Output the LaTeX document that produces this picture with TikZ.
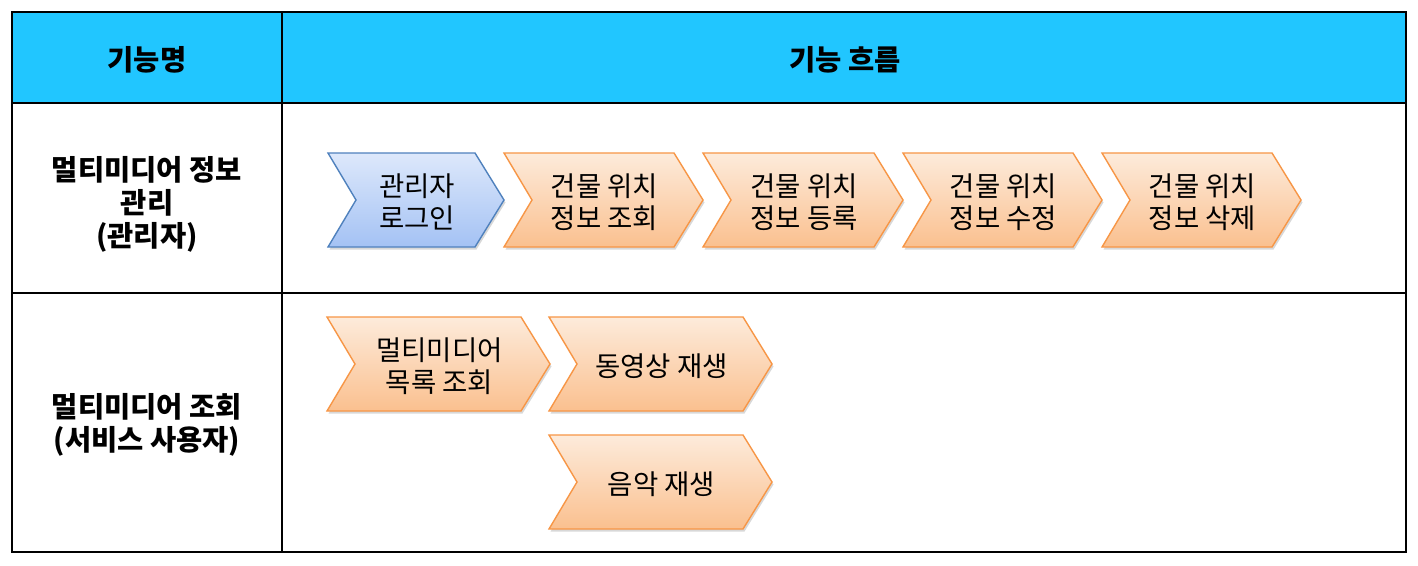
\documentclass[tikz,border=0pt]{standalone}
\usepackage{fontspec}
\setmainfont{Noto Sans CJK KR}
\usetikzlibrary{shadows}
\definecolor{hdr}{HTML}{21C6FF}
\definecolor{bluetop}{HTML}{DDE8FB}
\definecolor{bluebot}{HTML}{A4C2F4}
\definecolor{blueline}{HTML}{4F81BD}
\definecolor{ortop}{HTML}{FDEBDB}
\definecolor{orbot}{HTML}{FAC08F}
\definecolor{orline}{HTML}{F79646}
\tikzset{
  grid/.style={draw=black, line width=1.6pt},
  chevtext/.style={font=\fontsize{27.5}{32}\selectfont, align=center, inner sep=0pt},
  celltext/.style={font=\bfseries\fontsize{28.5}{33}\selectfont, align=center, inner sep=0pt},
  bluechev/.style={top color=bluetop, bottom color=bluebot, draw=blueline, line width=1.4pt,
     drop shadow={shadow xshift=1.5pt, shadow yshift=-2.5pt, opacity=0.3}},
  orchev/.style={top color=ortop, bottom color=orbot, draw=orline, line width=1.4pt,
     drop shadow={shadow xshift=1.5pt, shadow yshift=-2.5pt, opacity=0.3}},
}
% #1 style, #2 name, #3 x left, #4 y top, #5 width, #6 height, #7 text
\newcommand{\mychev}[7]{%
  \path[#1] (#3,#4) -- ++(#5-29,0) -- ++(29,#6/2) -- ++(-29,#6/2) -- ++(-#5+29,0) -- ++(28,-#6/2) -- cycle;
  \node[chevtext] (#2) at ({#3+#5/2+1},{#4+#6/2+2}) {#7};%
}
\begin{document}
\begin{tikzpicture}[x=1pt,y=-1pt]
\useasboundingbox (0,0) rectangle (1418,565);
\fill[white] (0,0) rectangle (1418,565);
% header
\fill[hdr] (12,12) rectangle (1406,103);
\draw[grid] (12,12) rectangle (1406,552);
\draw[grid] (12,103) -- (1406,103);
\draw[grid] (12,293) -- (1406,293);
\draw[grid] (282,12) -- (282,552);
\node[celltext] (h1) at (147,60) {기능명};
\node[celltext] (h2) at (845,60) {기능 흐름};
\node[celltext] (r1) at (147,204) {멀티미디어 정보\\관리\\(관리자)};
\node[celltext] (r2) at (147,425) {멀티미디어 조회\\(서비스 사용자)};
% row 1
\mychev{bluechev}{c1}{328}{153}{176}{94}{관리자\\로그인}
\mychev{orchev}{c2}{504}{153}{199}{94}{건물 위치\\정보 조회}
\mychev{orchev}{c3}{703}{153}{200}{94}{건물 위치\\정보 등록}
\mychev{orchev}{c4}{903}{153}{199}{94}{건물 위치\\정보 수정}
\mychev{orchev}{c5}{1102}{153}{199}{94}{건물 위치\\정보 삭제}
% row 2
\mychev{orchev}{d1}{327}{317}{223}{94}{멀티미디어\\목록 조회}
\mychev{orchev}{d2}{549}{317}{223}{94}{동영상 재생}
\mychev{orchev}{d3}{549}{435}{223}{94}{음악 재생}
\end{tikzpicture}
\end{document}
